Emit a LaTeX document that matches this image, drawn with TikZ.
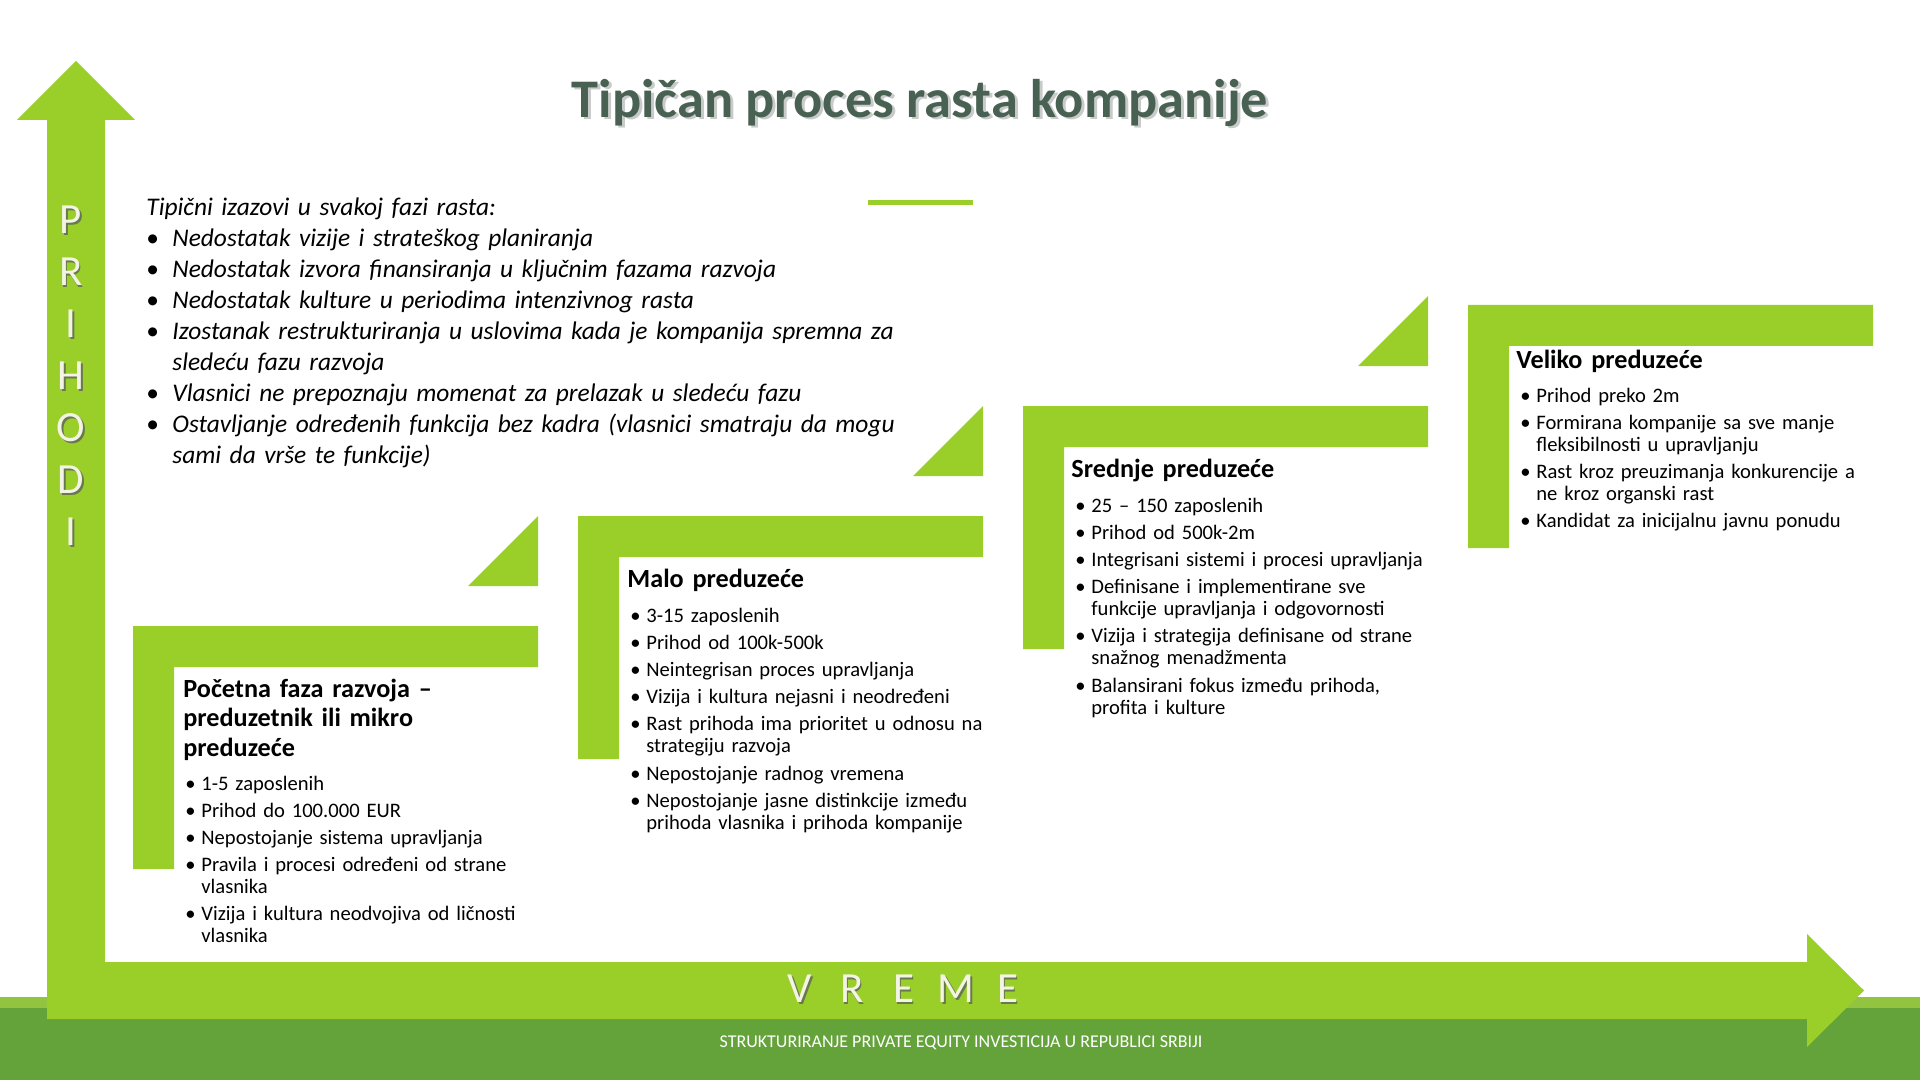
\documentclass[tikz,border=0pt]{standalone}
\usepackage{fontspec}
\setmainfont{Carlito}
\usepackage{tikz}
\usetikzlibrary{calc}
\definecolor{growgreen}{RGB}{154,207,42}
\definecolor{footgreen}{RGB}{99,163,57}
\definecolor{stripegreen}{RGB}{146,196,64}
\definecolor{titleslate}{RGB}{72,97,83}
\definecolor{shadowgray}{RGB}{200,203,201}
\definecolor{axiscream}{RGB}{244,244,228}
\definecolor{axisshadow}{RGB}{104,120,80}
\tikzset{
  stepfill/.style={fill=growgreen},
  slidetitle/.style={anchor=base,inner sep=0pt,text=titleslate,
    font=\fontsize{27.2}{31}\selectfont\bfseries},
  titleshade/.style={slidetitle,text=shadowgray},
  axislab/.style={inner sep=0pt,text=axiscream,align=center,
    font=\fontsize{21.5}{26}\selectfont},
  axisshade/.style={axislab,text=axisshadow},
  intro/.style={anchor=base west,inner sep=0pt,align=left,text width=420pt,
    font=\fontsize{12.7}{15.5}\selectfont\itshape},
  stagehead/.style={anchor=base west,inner sep=0pt,align=left,text width=180pt,
    font=\fontsize{13.1}{14.75}\selectfont\bfseries},
  stagelist/.style={anchor=base west,inner sep=0pt,align=left,text width=190pt,
    font=\fontsize{10.3}{11}\selectfont},
  foot/.style={inner sep=0pt,text=white,font=\fontsize{9}{11}\selectfont}
}
\newcommand{\ib}{\makebox[13pt][l]{\upshape\textbullet}}
\newcommand{\ic}{\hspace*{13pt}}
\newcommand{\bul}{\makebox[8pt][l]{\textbullet}}
\newcommand{\bulc}{\hspace*{8pt}}
\newcommand{\spaced}[1]{\makebox[26pt]{#1}}

\begin{document}
\begin{tikzpicture}[x=0.5pt,y=-0.5pt]
  \useasboundingbox (0,0) rectangle (1920,1080);
  % footer band
  \fill[stripegreen] (0,997) rectangle (1920,1008);
  \fill[footgreen] (0,1008) rectangle (1920,1080);
  % axes: revenue up, time right
  \fill[stepfill] (47,1019) -- (47,120) -- (17,120) -- (76,61) -- (135,120)
    -- (105,120) -- (105,962) -- (1807,962) -- (1807,934) -- (1864,990.5)
    -- (1807,1047) -- (1807,1019) -- cycle;
  \node[axisshade] (prihodiS) at (72.5,377.5) {P\\R\\I\\H\\O\\D\\I};
  \node[axislab] (prihodi) at (71,376) {P\\R\\I\\H\\O\\D\\I};
  \node[axisshade] (vremeS) at (905.5,990.5)
    {\spaced{V}\spaced{R}\spaced{E}\spaced{M}\spaced{E}};
  \node[axislab] (vreme) at (904,989)
    {\spaced{V}\spaced{R}\spaced{E}\spaced{M}\spaced{E}};
  \node[foot] (footer) at (961,1043)
    {STRUKTURIRANJE PRIVATE EQUITY INVESTICIJA U REPUBLICI SRBIJI};

  % title
  \node[titleshade] (titleS) at (923,120) {Tipičan proces rasta kompanije};
  \node[slidetitle] (title) at (920,118) {Tipičan proces rasta kompanije};
  \fill[stepfill] (868,200) rectangle (973,205);

  \node[intro] (izazovi) at (146,215.5) {Tipični izazovi u svakoj fazi rasta:\\
    \ib Nedostatak vizije i strateškog planiranja\\
    \ib Nedostatak izvora finansiranja u ključnim fazama razvoja\\
    \ib Nedostatak kulture u periodima intenzivnog rasta\\
    \ib Izostanak restrukturiranja u uslovima kada je kompanija spremna za\\
    \ic sledeću fazu razvoja\\
    \ib Vlasnici ne prepoznaju momenat za prelazak u sledeću fazu\\
    \ib Ostavljanje određenih funkcija bez kadra (vlasnici smatraju da mogu\\
    \ic sami da vrše te funkcije)};

  % stage steps
  \fill[stepfill] (133,626) -- ++(405,0) -- ++(0,41) -- ++(-364,0)
    -- ++(0,202) -- ++(-41,0) -- cycle;
  \fill[stepfill] (538,516) -- ++(0,70) -- ++(-70,0) -- cycle;
  \fill[stepfill] (578,516) -- ++(405,0) -- ++(0,41) -- ++(-364,0)
    -- ++(0,202) -- ++(-41,0) -- cycle;
  \fill[stepfill] (983,406) -- ++(0,70) -- ++(-70,0) -- cycle;
  \fill[stepfill] (1023,406) -- ++(405,0) -- ++(0,41) -- ++(-364,0)
    -- ++(0,202) -- ++(-41,0) -- cycle;
  \fill[stepfill] (1428,296) -- ++(0,70) -- ++(-70,0) -- cycle;
  \fill[stepfill] (1468,305) -- ++(405,0) -- ++(0,41) -- ++(-364,0)
    -- ++(0,202) -- ++(-41,0) -- cycle;

  \node[stagehead] (mikroH) at (183,697)
    {Početna faza razvoja –\\preduzetnik ili mikro\\preduzeće};
  \node[stagelist] (mikro) at (185,790) {\bul 1-5 zaposlenih\\[2.6pt]
    \bul Prihod do 100.000 EUR\\[2.6pt]
    \bul Nepostojanje sistema upravljanja\\[2.6pt]
    \bul Pravila i procesi određeni od strane\\
    \bulc vlasnika\\[2.6pt]
    \bul Vizija i kultura neodvojiva od ličnosti\\
    \bulc vlasnika};

  \node[stagehead] (maloH) at (627,587) {Malo preduzeće};
  \node[stagelist] (malo) at (630,622) {\bul 3-15 zaposlenih\\[2.6pt]
    \bul Prihod od 100k-500k\\[2.6pt]
    \bul Neintegrisan proces upravljanja\\[2.6pt]
    \bul Vizija i kultura nejasni i neodređeni\\[2.6pt]
    \bul Rast prihoda ima prioritet u odnosu na\\
    \bulc strategiju razvoja\\[2.6pt]
    \bul Nepostojanje radnog vremena\\[2.6pt]
    \bul Nepostojanje jasne distinkcije između\\
    \bulc prihoda vlasnika i prihoda kompanije};

  \node[stagehead] (srednjeH) at (1071,477) {Srednje preduzeće};
  \node[stagelist] (srednje) at (1075,512) {\bul 25 – 150 zaposlenih\\[2.6pt]
    \bul Prihod od 500k-2m\\[2.6pt]
    \bul Integrisani sistemi i procesi upravljanja\\[2.6pt]
    \bul Definisane i implementirane sve\\
    \bulc funkcije upravljanja i odgovornosti\\[2.6pt]
    \bul Vizija i strategija definisane od strane\\
    \bulc snažnog menadžmenta\\[2.6pt]
    \bul Balansirani fokus između prihoda,\\
    \bulc profita i kulture};

  \node[stagehead] (velikoH) at (1516,368) {Veliko preduzeće};
  \node[stagelist] (veliko) at (1520,402) {\bul Prihod preko 2m\\[2.6pt]
    \bul Formirana kompanije sa sve manje\\
    \bulc fleksibilnosti u upravljanju\\[2.6pt]
    \bul Rast kroz preuzimanja konkurencije a\\
    \bulc ne kroz organski rast\\[2.6pt]
    \bul Kandidat za inicijalnu javnu ponudu};
\end{tikzpicture}
\end{document}
